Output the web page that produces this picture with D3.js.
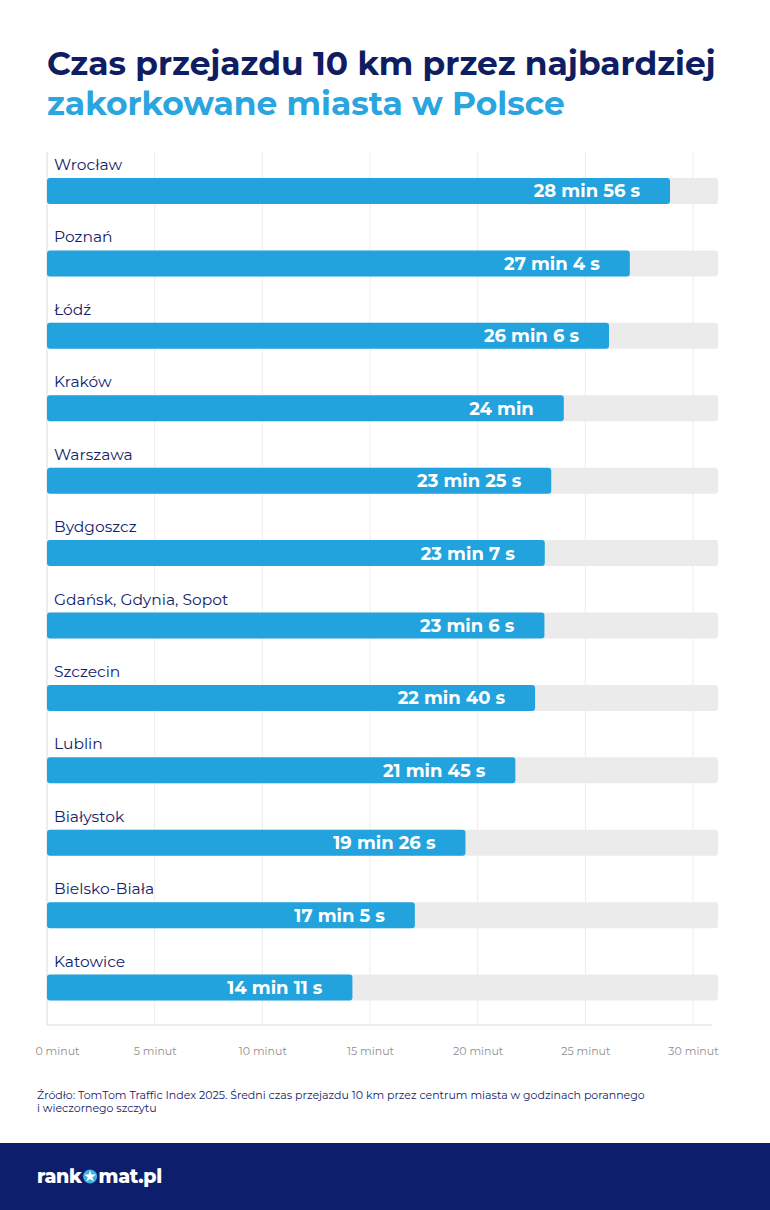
<!DOCTYPE html>
<html><head><meta charset="utf-8">
<script src="https://cdn.jsdelivr.net/npm/d3@7"></script>
<style>
html,body{margin:0;padding:0;background:#fff;}
svg{display:block;}
</style></head>
<body>
<script>
const cities = ["Wrocław","Poznań","Łódź","Kraków","Warszawa","Bydgoszcz","Gdańsk, Gdynia, Sopot","Szczecin","Lublin","Białystok","Bielsko-Biała","Katowice"];
const minutes = [28,27,26,24,23,23,23,22,21,19,17,14];
const seconds = [56,4,6,0,25,7,6,40,45,26,5,11];
const tickValues = [0,5,10,15,20,25,30];
const tickLabels = ["0 minut","5 minut","10 minut","15 minut","20 minut","25 minut","30 minut"];
const titleLine1 = "Czas przejazdu 10 km przez najbardziej";
const titleLine2 = "zakorkowane miasta w Polsce";
const source1 = "Źródło: TomTom Traffic Index 2025. Średni czas przejazdu 10 km przez centrum miasta w godzinach porannego";
const source2 = "i wieczornego szczytu";

const W = 770, H = 1210;
const NAVY = "#13216a", BLUE = "#22a3de", TRACK = "#ebebeb";
const FONT = "Montserrat, Inter, 'Noto Sans', sans-serif";

const data = cities.map((c,i)=>({city:c, value: minutes[i] + seconds[i]/60,
  label: seconds[i] ? `${minutes[i]} min ${seconds[i]} s` : `${minutes[i]} min`}));

const svg = d3.select("body").append("svg").attr("width",W).attr("height",H)
  .style("font-family",FONT);

// Title
const t1 = svg.append("text").attr("x",47).attr("y",75).attr("fill","#0f1d62")
  .attr("font-weight",700).attr("font-size",30).text(titleLine1);
const t2 = svg.append("text").attr("x",47).attr("y",115).attr("fill","#29a5df")
  .attr("font-weight",700).attr("font-size",30).text(titleLine2);
const w1 = t1.node().getComputedTextLength();
const fs = 30 * 669 / w1;
t1.attr("font-size",fs); t2.attr("font-size",fs);

// scales
const x = d3.scaleLinear().domain([0,30]).range([47,693]);
const y = d3.scaleBand().domain(cities).range([155,1024]).paddingInner(0).paddingOuter(0);

// gridlines
const gridTop = 152, gridBottom = 1025;
svg.append("g").selectAll("line").data(tickValues).join("line")
  .attr("x1",d=>x(d)).attr("x2",d=>x(d)).attr("y1",gridTop).attr("y2",gridBottom)
  .attr("stroke",d=>d===0?"#dcdcdc":"#ececec").attr("stroke-width",1);

// axis
const axis = d3.axisBottom(x).tickValues(tickValues).tickSize(0)
  .tickFormat((d,i)=>tickLabels[i]);
const ag = svg.append("g").attr("transform",`translate(0,${gridBottom})`).call(axis);
ag.select(".domain").attr("d",`M47,0H712`).attr("stroke","#dcdcdc");
ag.selectAll(".tick text").attr("dy",0).attr("y",30).attr("fill","#8f8f8f")
  .attr("font-size",11).attr("font-weight",400).style("font-family",FONT);
ag.selectAll(".tick").filter(d=>d===0).select("text").attr("x",10);

// rows
const rows = svg.append("g").selectAll("g").data(data).join("g")
  .attr("transform",d=>`translate(0,${y(d.city)})`);
const barTop = 23, barH = 26;
rows.append("text").attr("x",54).attr("y",15).attr("fill",NAVY)
  .attr("font-size",15.5).attr("font-weight",400).text(d=>d.city);
rows.append("rect").attr("x",x(0)).attr("y",barTop).attr("width",718-x(0)).attr("height",barH)
  .attr("rx",3).attr("fill",TRACK);
rows.append("rect").attr("x",x(0)).attr("y",barTop).attr("width",d=>x(d.value)-x(0)).attr("height",barH)
  .attr("rx",3).attr("fill",BLUE);
rows.append("text").attr("x",d=>x(d.value)-30).attr("y",barTop+barH/2).attr("dy","0.36em")
  .attr("text-anchor","end").attr("fill","#fff").attr("font-weight",700).attr("font-size",18)
  .text(d=>d.label);

// source
svg.append("text").attr("x",37).attr("y",1099).attr("fill",NAVY).attr("font-size",11).text(source1);
svg.append("text").attr("x",37).attr("y",1112).attr("fill",NAVY).attr("font-size",11).text(source2);

// footer
svg.append("rect").attr("x",0).attr("y",1143).attr("width",W).attr("height",H-1143).attr("fill","#0c1e6c");
const lg = svg.append("g").attr("transform","translate(37,1183)");
const r1 = lg.append("text").attr("x",0).attr("y",0).attr("fill","#fff").attr("font-weight",800)
  .attr("font-size",19).style("letter-spacing","-0.3px").text("rank");
const rw = r1.node().getComputedTextLength();
const cx = rw + 8.5;
lg.append("circle").attr("cx",cx).attr("cy",-6.5).attr("r",7).attr("fill","#3fb0e6");
const star = d3.symbol().type(d3.symbolStar).size(45)();
lg.append("path").attr("d",star).attr("transform",`translate(${cx},-6.5)`).attr("fill","#fff");
lg.append("text").attr("x",cx+8.5).attr("y",0).attr("fill","#fff").attr("font-weight",800)
  .attr("font-size",19).style("letter-spacing","-0.3px").text("mat.pl");
</script>
</body></html>
